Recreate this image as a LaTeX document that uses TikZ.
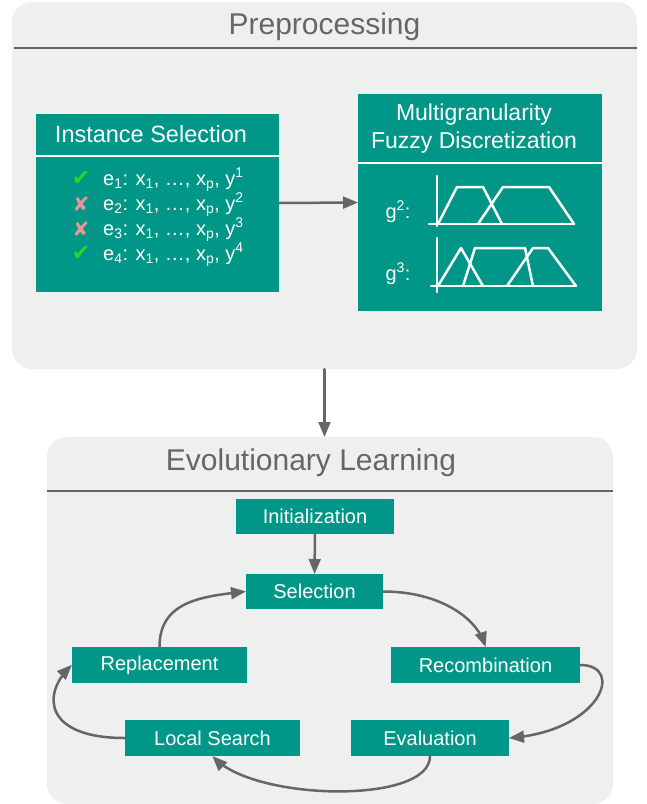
\documentclass[tikz,border=0pt]{standalone}
\usepackage{fontspec}
\setmainfont{Liberation Sans}
\newfontfamily\markfont{DejaVu Sans}
\usetikzlibrary{arrows}
\definecolor{boxgreen}{RGB}{0,150,136}
\definecolor{panelgray}{RGB}{239,239,239}
\definecolor{linegray}{RGB}{102,102,102}
\definecolor{checkgreen}{RGB}{40,215,40}
\definecolor{crossred}{RGB}{232,150,150}

\begin{document}
\begin{tikzpicture}[line cap=round,line join=round,>=triangle 45,x=1pt,y=-1pt,
  panel/.style={fill=panelgray,rounded corners=20pt,inner sep=0pt},
  heading/.style={text=linegray,anchor=base,font=\fontsize{30}{36}\selectfont},
  bigbox/.style={fill=boxgreen,text=white,inner sep=0pt},
  stage/.style={fill=boxgreen,text=white,inner sep=0pt,font=\fontsize{20}{24}\selectfont},
  rowtext/.style={text=white,anchor=base west,inner sep=0pt,font=\fontsize{20}{24}\selectfont},
  markcheck/.style={text=checkgreen,font=\markfont\fontsize{22}{26}\selectfont},
  markcross/.style={text=crossred,font=\markfont\fontsize{20}{24}\selectfont},
  flow/.style={draw=linegray,line width=2.5pt,->},
  headline/.style={white,line width=2pt,line cap=butt},
  plotline/.style={white,line width=2.5pt}]
\useasboundingbox (0,0) rectangle (646,804);
%
% panels
\node[panel,minimum width=625pt,minimum height=367pt] (prep) at (324.5,185.5) {};
\node[heading] (preptitle) at (324.5,34) {Preprocessing};
\draw[linegray,line width=2pt,line cap=butt] (14,48) -- (637,48);
\node[panel,minimum width=566pt,minimum height=367pt] (evol) at (330,620.5) {};
\node[heading] (evoltitle) at (311,470) {Evolutionary Learning};
\draw[linegray,line width=2pt,line cap=butt] (47,491) -- (613,491);
\draw[flow] (prep.south) -- (prep.south |- evol.north);
%
% instance selection
\node[bigbox,minimum width=243pt,minimum height=178pt] (inst) at (157.5,203) {};
\node[text=white,font=\fontsize{23.5}{28}\selectfont] (insttitle) at (151,134) {Instance Selection};
\draw[headline] (36,156) -- (279,156);
\node[markcheck] (mark1) at (81,179) {✔};
\node[markcross] (mark2) at (81,204) {✘};
\node[markcross] (mark3) at (81,229) {✘};
\node[markcheck] (mark4) at (81,254) {✔};
\node[rowtext] (row1) at (103,185) {e\textsubscript{1}: x\textsubscript{1}, …, x\textsubscript{p}, y\textsuperscript{1}};
\node[rowtext] (row2) at (103,210) {e\textsubscript{2}: x\textsubscript{1}, …, x\textsubscript{p}, y\textsuperscript{2}};
\node[rowtext] (row3) at (103,235) {e\textsubscript{3}: x\textsubscript{1}, …, x\textsubscript{p}, y\textsuperscript{3}};
\node[rowtext] (row4) at (103,260) {e\textsubscript{4}: x\textsubscript{1}, …, x\textsubscript{p}, y\textsuperscript{4}};
%
% fuzzy discretization
\node[bigbox,minimum width=244pt,minimum height=217pt] (fuzzy) at (480,202.5) {};
\node[text=white,align=center,font=\fontsize{23}{28}\selectfont] (fuzzytitle) at (474,129) {Multigranularity\\Fuzzy Discretization};
\draw[headline] (358,163) -- (602,163);
\node[rowtext,anchor=base] (gtwo) at (398,218) {g\textsuperscript{2}:};
\node[rowtext,anchor=base] (gthree) at (398,280) {g\textsuperscript{3}:};
\begin{scope}[shift={(437,224)}]
\draw[plotline] (0,-48) -- (0,2);
\draw[plotline] (-8,0) -- (137,0);
\draw[plotline] (1,0) -- (20,-37) -- (46,-37) -- (65,0);
\draw[plotline] (41,0) -- (66,-37) -- (112,-37) -- (137,0);
\end{scope}
\begin{scope}[shift={(437,286)}]
\draw[plotline] (0,-48) -- (0,6);
\draw[plotline] (-6,0) -- (139,0);
\draw[plotline] (1,0) -- (24,-38) -- (46,0);
\draw[plotline] (26,0) -- (38,-38) -- (88,-38) -- (96,0);
\draw[plotline] (70,0) -- (96,-38) -- (111,-38) -- (139,0);
\end{scope}
\draw[flow] (inst.east) -- (fuzzy.west);
%
% evolutionary loop
\node[stage,minimum width=158pt,minimum height=35pt] (init) at (315,516.5) {Initialization};
\node[stage,minimum width=137pt,minimum height=35pt] (sel) at (314.5,591.5) {Selection};
\node[stage,minimum width=175pt,minimum height=36pt] (rep) at (159.5,665) {Replacement};
\node[stage,minimum width=189pt,minimum height=36pt] (rec) at (485.5,665) {Recombination};
\node[stage,minimum width=175pt,minimum height=36pt] (ls) at (212.5,738) {Local Search};
\node[stage,minimum width=158pt,minimum height=36pt] (eval) at (430,738) {Evaluation};
\draw[flow] (init) -- (sel);
\draw[flow] (sel.east) .. controls +(55,0) and +(-10,-30) .. (rec.north);
\draw[flow] (rec.east) .. controls +(45,0) and +(92,-8) .. (eval.east);
\draw[flow] (eval.south) .. controls +(0,48) and +(45,45) .. (ls.south);
\draw[flow] (ls.west) .. controls +(-80,0) and +(-30,30) .. (rep.west);
\draw[flow] (rep.north) .. controls +(0,-45) and +(-45,5) .. (sel.west);
\end{tikzpicture}
\end{document}
